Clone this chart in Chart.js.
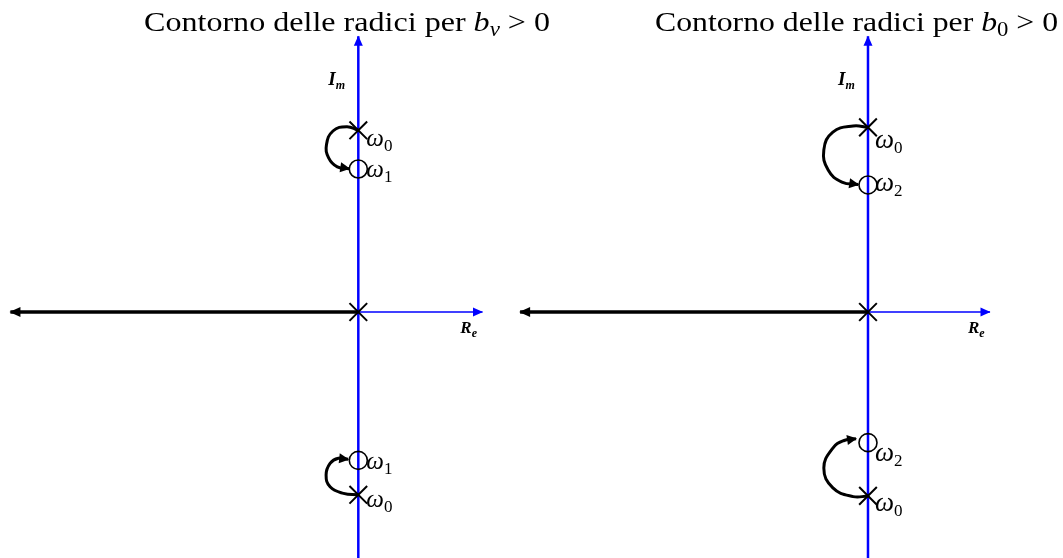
<!DOCTYPE html>
<html>
<head>
<meta charset="utf-8">
<title>Contorno delle radici</title>
<script src="https://cdn.jsdelivr.net/npm/chart.js@4"></script>
<style>
  html, body { margin: 0; padding: 0; background: #fff; overflow: hidden; }
  .wrap { position: relative; width: 1063px; height: 558px; }
  canvas { display: block; position: absolute; top: 0; }
  #left { left: 0; }
  #right { left: 490px; }
</style>
</head>
<body>
<div class="wrap">
  <canvas id="left" width="580" height="558"></canvas>
  <canvas id="right" width="573" height="558"></canvas>
</div>
<script>
// poles (x) and zeros (o) on the imaginary axis, plot units
const leftPoleY = [5.02, 0, -5.05];
const leftZeroY = [3.95, -4.1];
const leftPoleTags = ['0', '', '0'];
const leftZeroTags = ['1', '1'];
const leftLoopTop = [
  {x: 0, y: 5.02}, {x: -0.32, y: 5.12}, {x: -0.7, y: 5.0}, {x: -0.88, y: 4.62},
  {x: -0.82, y: 4.26}, {x: -0.58, y: 4.01}, {x: -0.25, y: 3.96}
];
const leftLoopBottom = [
  {x: 0, y: -5.05}, {x: -0.41, y: -5.01}, {x: -0.78, y: -4.83}, {x: -0.89, y: -4.5},
  {x: -0.78, y: -4.18}, {x: -0.55, y: -4.04}, {x: -0.28, y: -4.07}
];
const leftLocusEnd = -9.61;

const rightPoleY = [5.1, 0, -5.08];
const rightZeroY = [3.51, -3.61];
const rightPoleTags = ['0', '', '0'];
const rightZeroTags = ['2', '2'];
const rightLoopTop = [
  {x: 0, y: 5.1}, {x: -0.41, y: 5.14}, {x: -0.97, y: 4.97}, {x: -1.22, y: 4.48},
  {x: -1.1, y: 3.92}, {x: -0.72, y: 3.59}, {x: -0.27, y: 3.52}
];
const rightLoopBottom = [
  {x: 0, y: -5.08}, {x: -0.41, y: -5.1}, {x: -0.97, y: -4.86}, {x: -1.22, y: -4.31},
  {x: -0.97, y: -3.76}, {x: -0.66, y: -3.55}, {x: -0.33, y: -3.5}
];
const rightLocusEnd = -9.61;

// arrow tips of the drawn axes
const imAxisTip = 7.62;
const reAxisTipLeft = 3.43;
const reAxisTipRight = 3.37;

const SERIF = '"Liberation Serif", "Times New Roman", serif';
const BLUE = '#0000ff';

// draw a row of text runs (font changes, subscripts); with fitWidth the row is
// centred on x and stretched to that width
function drawRuns(ctx, runs, x, baseline, fitWidth) {
  let total = 0;
  runs.forEach(r => { ctx.font = r.font; total += ctx.measureText(r.text).width; });
  ctx.save();
  ctx.translate(fitWidth ? x - fitWidth / 2 : x, baseline);
  if (fitWidth) ctx.scale(fitWidth / total, 1);
  let cx = 0;
  runs.forEach(r => {
    ctx.font = r.font;
    ctx.fillText(r.text, cx, r.dy || 0);
    cx += ctx.measureText(r.text).width;
  });
  ctx.restore();
}

const arrowHeads = {
  id: 'arrowHeads',
  afterDatasetsDraw(chart) {
    const ctx = chart.ctx;
    chart.data.datasets.forEach((ds, i) => {
      if (!ds.arrow) return;
      const pts = chart.getDatasetMeta(i).data;
      const tip = pts[pts.length - 1];
      let bx = tip.cp1x, by = tip.cp1y;
      if (bx === undefined || Math.hypot(tip.x - bx, tip.y - by) < 0.5) {
        bx = pts[pts.length - 2].x;
        by = pts[pts.length - 2].y;
      }
      const a = Math.atan2(tip.y - by, tip.x - bx);
      const len = ds.arrow.len, half = ds.arrow.half, ext = ds.arrow.ext || 0;
      ctx.save();
      ctx.translate(tip.x, tip.y);
      ctx.rotate(a);
      ctx.beginPath();
      ctx.moveTo(ext, 0);
      ctx.lineTo(ext - len, -half);
      ctx.lineTo(ext - len, half);
      ctx.closePath();
      ctx.fillStyle = ds.borderColor;
      ctx.fill();
      ctx.restore();
    });
  }
};

const annotations = {
  id: 'annotations',
  afterDraw(chart, args, opts) {
    const ctx = chart.ctx;
    const xs = chart.scales.x, ys = chart.scales.y;
    const x0 = xs.getPixelForValue(0), y0 = ys.getPixelForValue(0);
    ctx.save();
    ctx.fillStyle = '#000';
    ctx.textAlign = 'left';
    ctx.textBaseline = 'alphabetic';

    // title
    drawRuns(ctx, opts.title, opts.titleX, 31, opts.titleWidth);

    // axis names
    drawRuns(ctx, [
      {text: 'I', font: 'italic bold 19px ' + SERIF},
      {text: 'm', font: 'italic bold 12px ' + SERIF, dy: 4}
    ], x0 - 30, 85);
    drawRuns(ctx, [
      {text: 'R', font: 'italic bold 17px ' + SERIF},
      {text: 'e', font: 'italic bold 12px ' + SERIF, dy: 4}
    ], x0 + opts.reLabelDx, y0 + 21);

    // omega labels beside poles and zeros
    opts.marks.forEach(m => {
      if (!m.tag) return;
      drawRuns(ctx, [
        {text: 'ω', font: 'italic ' + opts.omegaSize + 'px ' + SERIF},
        {text: m.tag, font: '17px ' + SERIF, dy: 5}
      ], x0 + opts.labelDx, ys.getPixelForValue(m.y) + m.dy);
    });
    ctx.restore();
  }
};

function rootLocus(id, o) {
  const marks = [];
  o.poles.forEach((y, i) => marks.push({y, tag: o.poleTags[i], dy: o.poleDy[i]}));
  o.zeros.forEach((y, i) => marks.push({y, tag: o.zeroTags[i], dy: o.zeroDy[i]}));

  const plain = {showLine: true, pointRadius: 0, tension: 0, clip: false};
  return new Chart(document.getElementById(id), {
    type: 'scatter',
    data: {
      datasets: [
        {
          data: o.poles.map(y => ({x: 0, y})),
          pointStyle: 'crossRot', pointRadius: 12.5,
          pointBorderColor: '#000', pointBorderWidth: 2, pointBackgroundColor: 'transparent',
          clip: false
        },
        {
          data: o.zeros.map(y => ({x: 0, y})),
          pointStyle: 'circle', pointRadius: 9,
          pointBorderColor: '#000', pointBorderWidth: 1.6, pointBackgroundColor: 'transparent',
          clip: false
        },
        Object.assign({}, plain, {
          data: o.loopTop, tension: 0.45, borderColor: '#000', borderWidth: 3,
          arrow: {len: 10, half: 5, ext: 1}
        }),
        Object.assign({}, plain, {
          data: o.loopBottom, tension: 0.45, borderColor: '#000', borderWidth: 3,
          arrow: {len: 10, half: 5, ext: 1}
        }),
        Object.assign({}, plain, {
          data: [{x: 0, y: 0}, {x: o.locusEnd, y: 0}],
          borderColor: '#000', borderWidth: 3.5,
          arrow: {len: 11, half: 5, ext: 1}
        }),
        Object.assign({}, plain, {
          data: [{x: 0, y: 0}, {x: o.reTip, y: 0}],
          borderColor: BLUE, borderWidth: 1.5,
          arrow: {len: 10, half: 4.5, ext: 0.5}
        }),
        Object.assign({}, plain, {
          data: [{x: 0, y: o.yMin}, {x: 0, y: imAxisTip}],
          borderColor: BLUE, borderWidth: 2.5,
          arrow: {len: 10, half: 4.5, ext: 0.5}
        })
      ]
    },
    options: {
      responsive: false,
      animation: false,
      events: [],
      layout: {padding: 0, autoPadding: false},
      scales: {
        x: {type: 'linear', display: false, min: o.xMin, max: o.xMax},
        y: {type: 'linear', display: false, min: o.yMin, max: o.yMax}
      },
      plugins: {
        legend: {display: false},
        tooltip: {enabled: false},
        annotations: {
          title: o.title, titleX: o.titleX, titleWidth: o.titleWidth,
          marks, labelDx: o.labelDx, reLabelDx: o.reLabelDx, omegaSize: o.omegaSize
        }
      }
    },
    plugins: [arrowHeads, annotations]
  });
}

const titleFont = '28px ' + SERIF;
const titleItalic = 'italic 28px ' + SERIF;

rootLocus('left', {
  xMin: -9.898, xMax: 6.124, yMin: -6.796, yMax: 8.619,
  poles: leftPoleY, zeros: leftZeroY,
  poleTags: leftPoleTags, zeroTags: leftZeroTags,
  poleDy: [16, 0, 12.5], zeroDy: [7.5, 9],
  loopTop: leftLoopTop, loopBottom: leftLoopBottom,
  locusEnd: leftLocusEnd, reTip: reAxisTipLeft,
  labelDx: 8, reLabelDx: 102, omegaSize: 25,
  titleX: 347, titleWidth: 406,
  title: [
    {text: 'Contorno delle radici per ', font: titleFont},
    {text: 'b', font: titleItalic},
    {text: 'v', font: 'italic 20px ' + SERIF, dy: 5},
    {text: ' > 0', font: titleFont}
  ]
});

rootLocus('right', {
  xMin: -10.442, xMax: 5.387, yMin: -6.796, yMax: 8.619,
  poles: rightPoleY, zeros: rightZeroY,
  poleTags: rightPoleTags, zeroTags: rightZeroTags,
  poleDy: [21, 0, 15.5], zeroDy: [6, 18],
  loopTop: rightLoopTop, loopBottom: rightLoopBottom,
  locusEnd: rightLocusEnd, reTip: reAxisTipRight,
  labelDx: 7, reLabelDx: 100, omegaSize: 27,
  titleX: 366.5, titleWidth: 403,
  title: [
    {text: 'Contorno delle radici per ', font: titleFont},
    {text: 'b', font: titleItalic},
    {text: '0', font: '20px ' + SERIF, dy: 5},
    {text: ' > 0', font: titleFont}
  ]
});
</script>
</body>
</html>
